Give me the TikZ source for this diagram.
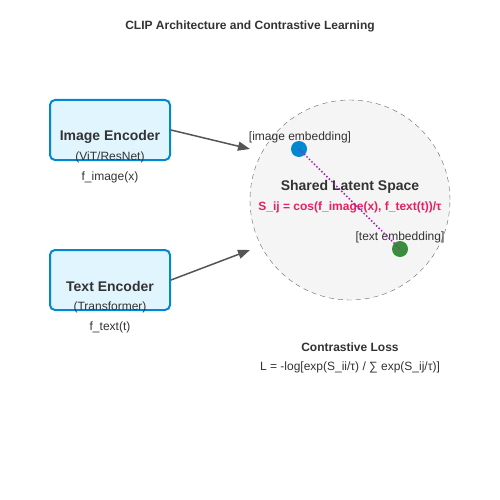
\documentclass[tikz,border=0pt]{standalone}
\usepackage{fontspec}
\setmainfont{Liberation Sans}
\usepackage{tikz}
\usetikzlibrary{arrows.meta}

\definecolor{encfill}{HTML}{E1F5FE}
\definecolor{encline}{HTML}{0288D1}
\definecolor{txtgray}{HTML}{333333}
\definecolor{arrgray}{HTML}{555555}
\definecolor{spacefill}{HTML}{F5F5F5}
\definecolor{simpink}{HTML}{E91E63}
\definecolor{embgreen}{HTML}{388E3C}
\definecolor{linkpurple}{HTML}{9C27B0}

\tikzset{
  encoder/.style={draw=encline,line width=2pt,fill=encfill,rounded corners=5pt,
    minimum width=120pt,minimum height=60pt,inner sep=0pt},
  heading/.style={font=\fontsize{14}{16}\selectfont\bfseries,text=txtgray,yshift=-1.5pt},
  small/.style={font=\fontsize{12}{14}\selectfont,text=txtgray,yshift=-1.5pt},
  feed/.style={draw=arrgray,line width=1.5pt,-{Triangle[length=12pt,width=9pt]}},
  emb/.style={circle,inner sep=0pt,minimum size=16pt}
}

\begin{document}
\begin{tikzpicture}[x=1pt,y=-1pt]
  \useasboundingbox[fill=white] (0,0) rectangle (500,500);
  \node[font=\fontsize{12}{14}\selectfont\bfseries,text=txtgray,yshift=-1pt] (title) at (250,25)
    {CLIP Architecture and Contrastive Learning};
  % encoders
  \node[encoder] (imgenc) at (110,130) {};
  \node[heading] (imgname) at (110,135) {Image Encoder};
  \node[small] (imgarch) at (110,156) {(ViT/ResNet)};
  \node[small] (imgfun) at (110,176) {f\_image(x)};
  \node[encoder] (txtenc) at (110,280) {};
  \node[heading] (txtname) at (110,285) {Text Encoder};
  \node[small] (txtarch) at (110,306) {(Transformer)};
  \node[small] (txtfun) at (110,326) {f\_text(t)};
  % latent space
  \node[circle,draw=black!60,dash pattern=on 5pt off 4pt,fill=spacefill,minimum size=200pt,inner sep=0pt]
    (space) at (350,200) {};
  \node[heading] (spacename) at (350,185) {Shared Latent Space};
  \node[font=\fontsize{12}{14}\selectfont\bfseries,text=simpink,yshift=-1.5pt] (sim) at (350,206)
    {S\_ij = cos(f\_image(x), f\_text(t))/τ};
  \node[emb,fill=encline] (imgemb) at (299,149) {};
  \node[emb,fill=embgreen] (txtemb) at (400,249) {};
  \node[small] (imglab) at (300,136) {[image embedding]};
  \node[small] (txtlab) at (400,236) {[text embedding]};
  \draw[linkpurple,line width=1.5pt,dotted] (imgemb.center) -- (txtemb.center);
  \coordinate (imgin) at (250,149);
  \coordinate (txtin) at (250,250);
  \draw[feed] (imgenc.east|-0,130) -- (imgin);
  \draw[feed] (txtenc.east|-0,280) -- (txtin);
  % loss
  \node[font=\fontsize{12}{14}\selectfont\bfseries,text=txtgray,yshift=-1.5pt] (loss) at (350,346)
    {Contrastive Loss};
  \node[small] (lossfn) at (350,366) {L = -log[exp(S\_ii/τ) / ∑ exp(S\_ij/τ)]};
\end{tikzpicture}
\end{document}
